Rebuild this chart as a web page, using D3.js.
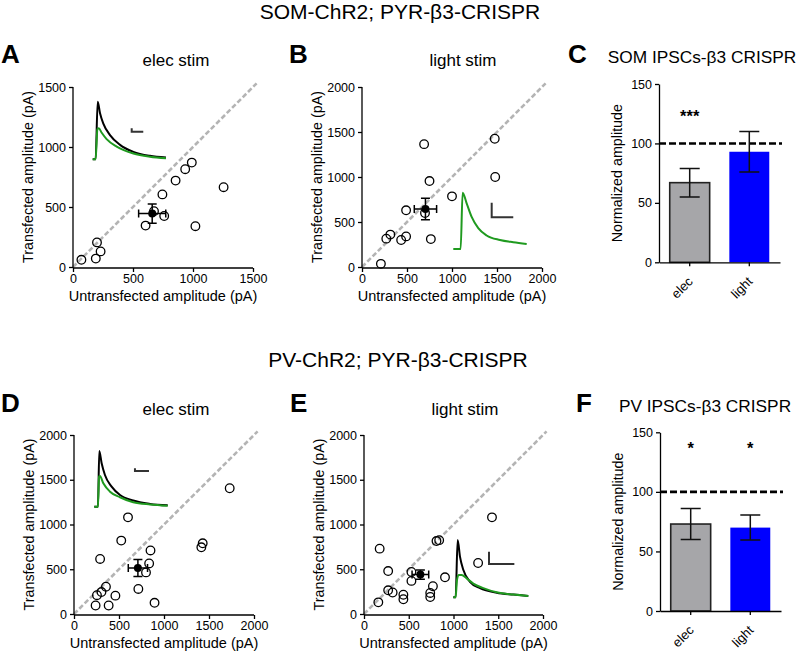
<!DOCTYPE html>
<html><head><meta charset="utf-8">
<script src="https://cdn.jsdelivr.net/npm/d3@7"></script>
<style>
body{margin:0;background:#fff}
svg{display:block}
text{font-family:"Liberation Sans",Arial,Helvetica,sans-serif;fill:#000}
</style>
</head><body>
<svg id="chart" width="800" height="656"></svg>
<script>
// ---------------- DATA ----------------
const figureTitles = ["SOM-ChR2; PYR-\u03b23-CRISPR", "PV-ChR2; PYR-\u03b23-CRISPR"];
const panelLetters = ["A","B","C","D","E","F"];
const panelTitles = ["elec stim","light stim","SOM IPSCs-\u03b23 CRISPR","elec stim","light stim","PV IPSCs-\u03b23 CRISPR"];
const xAxisTitle = "Untransfected amplitude (pA)";
const yAxisTitle = "Transfected amplitude (pA)";
const barAxisTitle = "Normalized amplitude";

const ticksA = [0,500,1000,1500];
const ticks2000 = [0,500,1000,1500,2000];
const barTicks = [0,50,100,150];
const barCategories = ["elec","light"];

// A: SOM, elec stim
const somElecUntrans = [70,200,190,230,605,675,760,745,855,935,990,1020,1255];
const somElecTrans   = [60,205,70,130,345,465,425,605,720,815,870,340,665];
const somElecMean = [660,445];
const somElecSem  = [113,80];
// B: SOM, light stim
const somLightUntrans = [210,270,315,435,490,490,690,700,750,765,1000,1475,1480];
const somLightTrans   = [35,315,360,300,340,630,1365,600,955,310,785,1425,1000];
const somLightMean = [705,645];
const somLightSem  = [124,120];
// D: PV, elec stim
const pvElecUntrans = [240,255,305,355,290,385,460,525,600,715,800,835,850,895,1415,1430,1730];
const pvElecTrans   = [95,210,245,305,615,95,205,820,1080,280,465,565,710,125,745,790,1405];
const pvElecMean = [710,515];
const pvElecSem  = [107,95];
// E: PV, light stim
const pvLightUntrans = [160,175,270,270,320,440,440,530,530,770,740,740,810,840,905,1275,1430];
const pvLightTrans   = [130,730,480,265,240,215,165,470,370,310,235,190,815,825,410,570,1080];
const pvLightMean = [630,440];
const pvLightSem  = [93,52];

// C / F: normalized amplitude bars
const somBarValues = [67,93];
const somBarErrors = [12,17];
const somStars = ["***",""];
const somStarLevel = [118,0];
const pvBarValues = [73,70];
const pvBarErrors = [13,10.5];
const pvStars = ["*","*"];
const pvStarLevel = [132,132];
const referenceLevel = 100;

// Inset traces (time in % of trace window, amplitude relative to largest peak)
const insetA_blackT = [0,4,6.8,10,14.5,23.6,37.3,55.5,78,100];
const insetA_black  = [0,0,1,0.80,0.62,0.42,0.25,0.13,0.06,0.03];
const insetA_greenT = [0,4,6.4,8.2,12.3,19,32.7,55.5,78,100];
const insetA_green  = [0,0,0.52,0.54,0.46,0.35,0.22,0.10,0.046,0.02];
const insetA_bar = [53.2,0.479,15.8,0.059];

const insetB_greenT = [0,10,12.7,18.2,25,34,45.4,63.6,81.7,100];
const insetB_green  = [0,0,1,0.81,0.57,0.37,0.24,0.16,0.12,0.09];
const insetB_bar = [52.3,0.563,29.4,0.26];

const insetD_blackT = [0,5,6.8,10,14.5,23.6,35,53,76,100];
const insetD_black  = [0,0,1,0.78,0.57,0.36,0.21,0.11,0.05,0.024];
const insetD_greenT = [0,5,6.4,7.7,12.3,21.4,35,53,76,100];
const insetD_green  = [0,0,0.54,0.55,0.42,0.27,0.17,0.08,0.04,0.018];
const insetD_bar = [55.4,0.641,19.1,0.048];

const insetE_blackT = [0,3.1,5.8,8.9,13.3,22.2,35.6,57.8,80,100];
const insetE_black  = [0,0,1,0.71,0.48,0.27,0.16,0.08,0.047,0.023];
const insetE_greenT = [0,3.1,4.9,7.1,11.1,17.8,26.7,40,57.8,80,100];
const insetE_green  = [0,0,0.3,0.39,0.39,0.33,0.24,0.16,0.087,0.047,0.023];
const insetE_bar = [47.6,0.581,33.8,0.215];

// ---------------- DRAWING ----------------
const svg = d3.select("#chart");
const GREEN = "#1f9a1f";
const fmt = d3.format("d");

function txt(x,y,s,size,opts={}) {
  const t = svg.append("text").attr("x",x).attr("y",y).text(s)
    .attr("font-size",size).attr("text-anchor",opts.anchor||"start");
  if (opts.bold) t.attr("font-weight","bold");
  if (opts.rotate) t.attr("transform",`rotate(${opts.rotate},${x},${y})`);
  return t;
}

function styleAxis(g){
  g.selectAll(".domain").attr("stroke","#000").attr("stroke-width",1.3);
  g.selectAll(".tick line").attr("stroke","#000").attr("stroke-width",1.3);
  g.selectAll(".tick text").attr("font-size",12.5).attr("fill","#111")
    .attr("font-family",'"Liberation Sans",Arial,sans-serif');
}

function scatterPanel(cfg){
  const x = d3.scaleLinear().domain([0,cfg.max]).range(cfg.xr);
  const y = d3.scaleLinear().domain([0,cfg.max]).range(cfg.yr);
  const g = svg.append("g");
  const dmax = cfg.max*1.02;
  g.append("line").attr("x1",x(0)).attr("y1",y(0)).attr("x2",x(dmax)).attr("y2",y(dmax))
    .attr("stroke","#b4b4b4").attr("stroke-width",2.6).attr("stroke-dasharray","5,2.5");
  const ax = g.append("g").attr("transform",`translate(0,${y(0)+1})`)
    .call(d3.axisBottom(x).tickValues(cfg.ticks).tickFormat(fmt).tickSize(4).tickSizeOuter(0).tickPadding(2));
  styleAxis(ax);
  const ay = g.append("g").attr("transform",`translate(${x(0)},0)`)
    .call(d3.axisLeft(y).tickValues(cfg.ticks).tickFormat(fmt).tickSize(4).tickSizeOuter(0).tickPadding(3));
  styleAxis(ay);
  ax.select(".domain").attr("d",`M${x(0)},0H${cfg.xr[1]}`);
  ay.select(".domain").attr("d",`M0,${y(0)+1}V${cfg.yr[1]}`);
  txt((cfg.xr[0]+cfg.xr[1])/2, y(0)+34, xAxisTitle, 14.5, {anchor:"middle"});
  const ytx = x(0)-40, yty = (cfg.yr[0]+cfg.yr[1])/2;
  txt(ytx, yty, yAxisTitle, 14.3, {anchor:"middle", rotate:-90});
  if (cfg.inset){
    const ins = cfg.inset;
    const tx = d3.scaleLinear().domain([0,100]).range(ins.x);
    const ty = d3.scaleLinear().domain([0,1]).range(ins.y);
    const line = d3.line().x(d=>tx(d[0])).y(d=>ty(d[1])).curve(d3.curveMonotoneX);
    ins.traces.forEach(tr=>{
      g.append("path").attr("d",line(d3.zip(tr.t,tr.v))).attr("fill","none")
        .attr("stroke",tr.color).attr("stroke-width",2).attr("stroke-linejoin","round");
    });
    const b = ins.bar;
    g.append("path").attr("d",`M${tx(b[0])},${ty(b[1]+b[3])}V${ty(b[1])}H${tx(b[0]+b[2])}`)
      .attr("fill","none").attr("stroke","#333").attr("stroke-width",2);
  }
  g.selectAll("circle.pt").data(d3.zip(cfg.xs,cfg.ys)).join("circle")
    .attr("class","pt").attr("cx",d=>x(d[0])).attr("cy",d=>y(d[1])).attr("r",4.3)
    .attr("fill","none").attr("stroke","#000").attr("stroke-width",1.3);
  const mx = x(cfg.mean[0]), my = y(cfg.mean[1]);
  const xl = x(cfg.mean[0]-cfg.sem[0]), xh = x(cfg.mean[0]+cfg.sem[0]);
  const yl = y(cfg.mean[1]-cfg.sem[1]), yh = y(cfg.mean[1]+cfg.sem[1]);
  const eb = `M${xl},${my}H${xh}M${xl},${my-4}V${my+4}M${xh},${my-4}V${my+4}` +
             `M${mx},${yl}V${yh}M${mx-4.5},${yl}H${mx+4.5}M${mx-4.5},${yh}H${mx+4.5}`;
  g.append("path").attr("d",eb).attr("fill","none").attr("stroke","#000").attr("stroke-width",1.5);
  g.append("circle").attr("cx",mx).attr("cy",my).attr("r",4).attr("fill","#000");
}

function barPanel(cfg){
  const x = d3.scaleBand().domain(barCategories).range(cfg.xr).paddingInner(0.33).paddingOuter(0.18);
  const y = d3.scaleLinear().domain([0,150]).range(cfg.yr);
  const g = svg.append("g");
  const data = barCategories.map((c,i)=>({c, v:cfg.values[i], e:cfg.errors[i], s:cfg.stars[i], sl:cfg.starLevel[i]}));
  g.selectAll("rect.bar").data(data).join("rect").attr("class","bar")
    .attr("x",d=>x(d.c)).attr("width",x.bandwidth())
    .attr("y",d=>y(d.v)).attr("height",d=>y(0)-y(d.v))
    .attr("fill",(d,i)=>cfg.colors[i])
    .attr("stroke",(d,i)=>i===0?"#222":"none").attr("stroke-width",1.6);
  g.append("line").attr("x1",cfg.xr[0]).attr("x2",cfg.xr[1]+2).attr("y1",y(referenceLevel)).attr("y2",y(referenceLevel))
    .attr("stroke","#000").attr("stroke-width",2.6).attr("stroke-dasharray","7,3");
  data.forEach(d=>{
    const cx = x(d.c)+x.bandwidth()/2;
    g.append("path").attr("d",`M${cx},${y(d.v-d.e)}V${y(d.v+d.e)}M${cx-10},${y(d.v-d.e)}H${cx+10}M${cx-10},${y(d.v+d.e)}H${cx+10}`)
      .attr("fill","none").attr("stroke","#111").attr("stroke-width",1.5);
    if (d.s) txt(cx, y(d.sl), d.s, 16.5, {anchor:"middle", bold:true});
  });
  const ax = g.append("g").attr("transform",`translate(0,${y(0)})`)
    .call(d3.axisBottom(x).tickSize(4).tickSizeOuter(0));
  styleAxis(ax);
  ax.selectAll(".tick text").remove();
  const ay = g.append("g").attr("transform",`translate(${cfg.xr[0]},0)`)
    .call(d3.axisLeft(y).tickValues(barTicks).tickFormat(fmt).tickSize(4).tickSizeOuter(0).tickPadding(3));
  styleAxis(ay);
  barCategories.forEach(c=>{
    const cx = x(c)+x.bandwidth()/2;
    txt(cx+4, y(0)+20, c, 13, {anchor:"end", rotate:-45});
  });
  txt(cfg.xr[0]-37, (cfg.yr[0]+cfg.yr[1])/2, barAxisTitle, 14.3, {anchor:"middle", rotate:-90});
}

txt(400, 18.5, figureTitles[0], 21, {anchor:"middle"});
txt(398, 367, figureTitles[1], 21, {anchor:"middle"});
txt(1, 63, panelLetters[0], 26, {bold:true});
txt(289, 63, panelLetters[1], 26, {bold:true});
txt(568, 63, panelLetters[2], 26, {bold:true});
txt(1, 412, panelLetters[3], 26, {bold:true});
txt(290, 412, panelLetters[4], 26, {bold:true});
txt(576, 412, panelLetters[5], 26, {bold:true});
txt(176, 66, panelTitles[0], 17, {anchor:"middle"});
txt(463, 66, panelTitles[1], 17, {anchor:"middle"});
txt(702, 63, panelTitles[2], 17.3, {anchor:"middle"});
txt(176, 414.5, panelTitles[3], 17, {anchor:"middle"});
txt(465, 414.5, panelTitles[4], 17, {anchor:"middle"});
txt(705, 412, panelTitles[5], 17.3, {anchor:"middle"});

scatterPanel({max:1500, ticks:ticksA, xr:[73,253], yr:[267,87],
  xs:somElecUntrans, ys:somElecTrans, mean:somElecMean, sem:somElecSem,
  inset:{x:[92.7,166], y:[159.3,101.7], bar:insetA_bar,
    traces:[{t:insetA_blackT,v:insetA_black,color:"#000"},{t:insetA_greenT,v:insetA_green,color:GREEN}]}});
scatterPanel({max:2000, ticks:ticks2000, xr:[362,542], yr:[267,87],
  xs:somLightUntrans, ys:somLightTrans, mean:somLightMean, sem:somLightSem,
  inset:{x:[453.3,526.7], y:[249,192.7], bar:insetB_bar,
    traces:[{t:insetB_greenT,v:insetB_green,color:GREEN}]}});
scatterPanel({max:2000, ticks:ticks2000, xr:[74,254], yr:[614,435],
  xs:pvElecUntrans, ys:pvElecTrans, mean:pvElecMean, sem:pvElecSem,
  inset:{x:[94.3,167.7], y:[506.7,451], bar:insetD_bar,
    traces:[{t:insetD_blackT,v:insetD_black,color:"#000"},{t:insetD_greenT,v:insetD_green,color:GREEN}]}});
scatterPanel({max:2000, ticks:ticks2000, xr:[364,543], yr:[614,435],
  xs:pvLightUntrans, ys:pvLightTrans, mean:pvLightMean, sem:pvLightSem,
  inset:{x:[453.3,528.3], y:[597.3,540], bar:insetE_bar,
    traces:[{t:insetE_blackT,v:insetE_black,color:"#000"},{t:insetE_greenT,v:insetE_green,color:GREEN}]}});

barPanel({xr:[659,780], yr:[262.3,84], values:somBarValues, errors:somBarErrors,
  stars:somStars, starLevel:somStarLevel, colors:["#a6a6a9","#0000ff"]});
barPanel({xr:[660,781], yr:[611,432.3], values:pvBarValues, errors:pvBarErrors,
  stars:pvStars, starLevel:pvStarLevel, colors:["#a6a6a9","#0000ff"]});
</script>
</body></html>
